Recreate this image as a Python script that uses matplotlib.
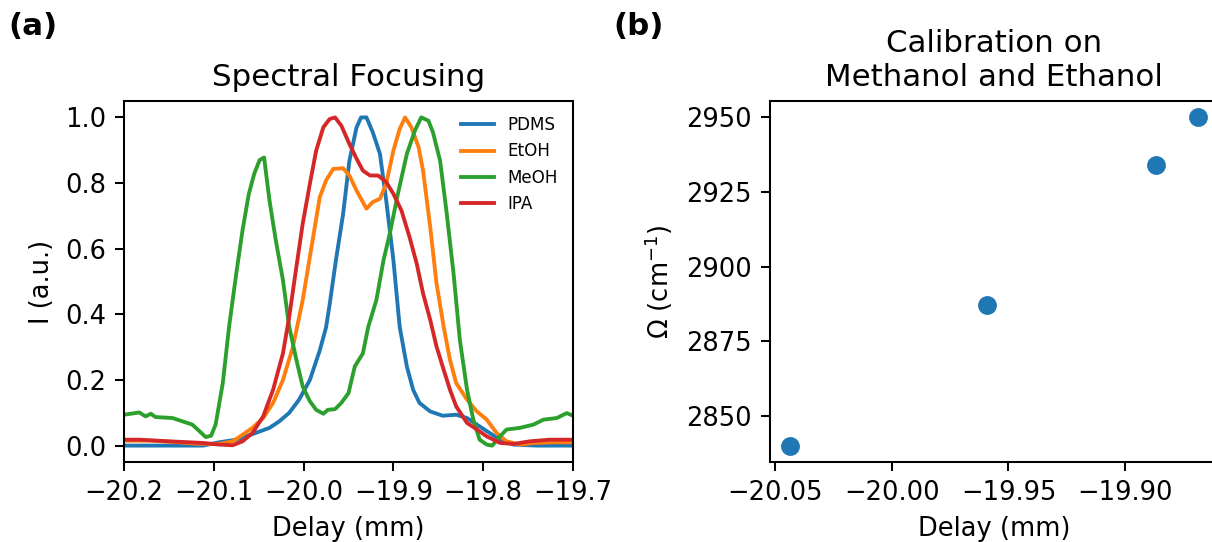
import numpy as np
import matplotlib
matplotlib.use('Agg')
import matplotlib.pyplot as plt

# spectral focusing traces, delay (mm) vs normalised intensity
pdms_x = [-20.20, -20.15, -20.112, -20.094, -20.075, -20.057, -20.038, -20.027, -20.016, -20.005,
          -19.993, -19.982, -19.975, -19.971, -19.964, -19.956, -19.949, -19.941, -19.936, -19.930,
          -19.923, -19.915, -19.908, -19.900, -19.893, -19.885, -19.878, -19.871, -19.859, -19.845,
          -19.830, -19.818, -19.807, -19.796, -19.781, -19.766, -19.74, -19.70]
pdms_y = [0.0, 0.0, 0.0, 0.01, 0.018, 0.035, 0.054, 0.074, 0.10, 0.14,
          0.20, 0.29, 0.36, 0.43, 0.565, 0.706, 0.868, 0.97, 1.0, 1.0,
          0.955, 0.889, 0.747, 0.565, 0.362, 0.241, 0.17, 0.13, 0.104, 0.091,
          0.094, 0.084, 0.064, 0.044, 0.018, 0.003, 0.0, 0.0]

etoh_x = [-20.20, -20.17, -20.15, -20.12, -20.094, -20.079, -20.068, -20.057, -20.045, -20.034,
          -20.023, -20.012, -20.001, -19.990, -19.982, -19.975, -19.967, -19.956, -19.949, -19.941,
          -19.930, -19.923, -19.915, -19.908, -19.900, -19.893, -19.887, -19.880, -19.872, -19.867,
          -19.859, -19.852, -19.844, -19.837, -19.830, -19.818, -19.807, -19.796, -19.785, -19.774,
          -19.759, -19.744, -19.722, -19.70]
etoh_y = [0.015, 0.015, 0.012, 0.006, 0.005, 0.013, 0.033, 0.054, 0.084, 0.13,
          0.20, 0.30, 0.443, 0.625, 0.757, 0.808, 0.843, 0.845, 0.823, 0.777,
          0.722, 0.742, 0.752, 0.798, 0.899, 0.965, 1.0, 0.97, 0.91, 0.838,
          0.666, 0.494, 0.362, 0.261, 0.19, 0.14, 0.104, 0.079, 0.038, 0.013,
          0.003, 0.008, 0.01, 0.01]

meoh_x = [-20.20, -20.183, -20.176, -20.170, -20.165, -20.146, -20.135, -20.124, -20.116, -20.109,
          -20.103, -20.098, -20.090, -20.083, -20.075, -20.068, -20.061, -20.055, -20.049, -20.044,
          -20.038, -20.031, -20.023, -20.016, -20.008, -20.001, -19.993, -19.986, -19.978, -19.973,
          -19.965, -19.958, -19.950, -19.943, -19.934, -19.928, -19.919, -19.911, -19.904, -19.895,
          -19.885, -19.876, -19.869, -19.861, -19.856, -19.848, -19.841, -19.833, -19.826, -19.818,
          -19.811, -19.804, -19.796, -19.790, -19.783, -19.774, -19.759, -19.744, -19.733, -19.718,
          -19.707, -19.70]
meoh_y = [0.094, 0.101, 0.089, 0.097, 0.087, 0.084, 0.074, 0.064, 0.044, 0.026,
          0.03, 0.064, 0.19, 0.362, 0.524, 0.656, 0.767, 0.828, 0.87, 0.878,
          0.747, 0.626, 0.504, 0.362, 0.261, 0.18, 0.135, 0.109, 0.097, 0.109,
          0.111, 0.13, 0.16, 0.241, 0.281, 0.362, 0.443, 0.565, 0.646, 0.767,
          0.889, 0.96, 1.0, 0.99, 0.955, 0.868, 0.716, 0.524, 0.322, 0.17,
          0.079, 0.018, 0.003, 0.0, 0.023, 0.049, 0.054, 0.064, 0.079, 0.084,
          0.099, 0.091]

ipa_x = [-20.20, -20.183, -20.15, -20.112, -20.094, -20.079, -20.068, -20.057, -20.045, -20.034,
         -20.023, -20.016, -20.008, -20.001, -19.993, -19.986, -19.978, -19.971, -19.965, -19.958,
         -19.949, -19.941, -19.934, -19.926, -19.917, -19.908, -19.900, -19.891, -19.882, -19.874,
         -19.867, -19.859, -19.852, -19.844, -19.837, -19.830, -19.818, -19.807, -19.796, -19.781,
         -19.766, -19.748, -19.726, -19.70]
ipa_y = [0.018, 0.018, 0.013, 0.008, 0.003, 0.001, 0.013, 0.038, 0.089, 0.17,
         0.281, 0.393, 0.545, 0.676, 0.798, 0.899, 0.97, 0.995, 1.0, 0.975,
         0.919, 0.874, 0.838, 0.823, 0.823, 0.803, 0.767, 0.716, 0.635, 0.554,
         0.464, 0.383, 0.302, 0.231, 0.17, 0.119, 0.069, 0.049, 0.028, 0.008,
         0.005, 0.013, 0.018, 0.018]

# calibration points
cal_delay = [-20.0437, -19.9592, -19.8869, -19.8687]
cal_omega = [2840, 2887, 2934, 2950]

plt.rcParams['font.size'] = 10

fig = plt.figure(figsize=(1212 / 185, 542 / 185), dpi=185)

ax1 = fig.add_axes([124 / 1212, 80 / 542, 449 / 1212, 361 / 542])
ax1.plot(pdms_x, pdms_y, lw=1.5, label='PDMS')
ax1.plot(etoh_x, etoh_y, lw=1.5, label='EtOH')
ax1.plot(meoh_x, meoh_y, lw=1.5, label='MeOH')
ax1.plot(ipa_x, ipa_y, lw=1.5, label='IPA')
ax1.set_xlim(-20.2, -19.7)
ax1.set_xlabel('Delay (mm)')
ax1.set_ylabel('I (a.u.)')
ax1.set_title('Spectral Focusing')
ax1.legend(loc='upper right', frameon=False, fontsize=6.5)

# same size as the first panel; its right edge falls just past the canvas
ax2 = fig.add_axes([769.5 / 1212, 80 / 542, 449 / 1212, 361 / 542])
ax2.scatter(cal_delay, cal_omega, s=40)
ax2.set_xticks([-20.05, -20.00, -19.95, -19.90])
ax2.set_yticks([2850, 2875, 2900, 2925, 2950])
ax2.set_xlabel('Delay (mm)')
ax2.set_ylabel('Ω (cm$^{-1}$)')
ax2.set_title('Calibration on\nMethanol and Ethanol')

fig.text(8 / 1212, 1 - 12 / 542, '(a)', fontsize=12, fontweight='bold', va='top')
fig.text(613 / 1212, 1 - 12 / 542, '(b)', fontsize=12, fontweight='bold', va='top')

fig.savefig('out.png', dpi=185)
